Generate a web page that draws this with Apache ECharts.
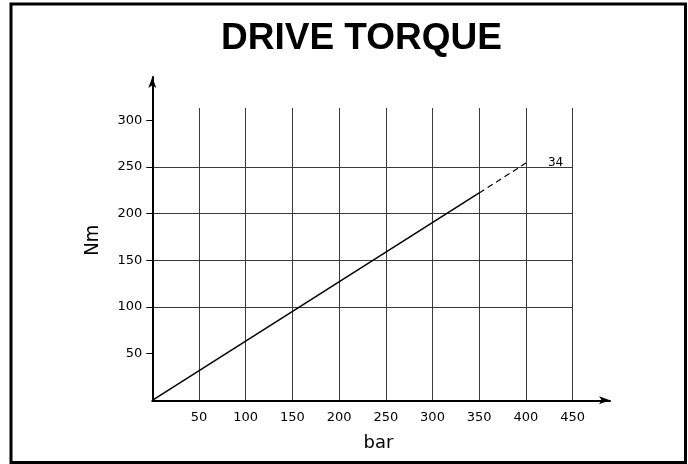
<!DOCTYPE html>
<html>
<head>
<meta charset="utf-8">
<script src="https://cdn.jsdelivr.net/npm/echarts@6/dist/echarts.min.js"></script>
<style>
html,body{margin:0;padding:0;background:#fff;}
#c{width:688px;height:464px;}
</style>
</head>
<body>
<div id="c"></div>
<script>
// ---- data ----
const titleText = 'DRIVE TORQUE';
const xName = 'bar';
const yName = 'Nm';
const xTicks = [50, 100, 150, 200, 250, 300, 350, 400, 450];
const yTicks = [50, 100, 150, 200, 250, 300];
const pressureSolid = [0, 350];
const torqueSolid = [0, 222];
const pressureDashed = [350, 400];
const torqueDashed = [222, 254];
const curveLabel = '34';

const solidData = pressureSolid.map((x, i) => [x, torqueSolid[i]]);
const dashedData = pressureDashed.map((x, i) => [x, torqueDashed[i]]);

const chart = echarts.init(document.getElementById('c'), null, {renderer: 'canvas'});
const labelFont = 'DejaVu Sans';
const gridColor = '#3a3a3a';

chart.setOption({
  animation: false,
  backgroundColor: '#fff',
  title: {
    text: titleText,
    left: 216,
    top: 15,
    textStyle: {fontFamily: 'Liberation Sans, Arial, sans-serif', fontWeight: 'bold', fontSize: 37, color: '#000'}
  },
  graphic: [{
    type: 'rect',
    shape: {x: 11, y: 4, width: 674.5, height: 458.5},
    style: {fill: 'none', stroke: '#000', lineWidth: 3},
    silent: true
  }],
  grid: [
    {left: 152.3, right: 115.4, top: 108, bottom: 63.7},
    {left: 152.3, right: 78, top: 77, bottom: 63.7}
  ],
  xAxis: [{
    type: 'value', gridIndex: 0, min: 0, max: 450, interval: 50,
    axisLine: {show: false},
    axisTick: {show: false},
    axisLabel: {customValues: xTicks, margin: 11, color: '#000', fontFamily: labelFont, fontSize: 13},
    splitLine: {show: true, showMinLine: false, lineStyle: {color: gridColor, width: 1}},
    name: xName, nameLocation: 'middle', nameGap: 34,
    nameTextStyle: {color: '#000', fontFamily: labelFont, fontSize: 18, padding: [0, 0, 0, 32]}
  }, {
    type: 'value', gridIndex: 1, min: 0, max: 1,
    axisLine: {show: true, onZero: false, symbol: ['none', 'arrow'], symbolSize: [6, 11], lineStyle: {color: '#000', width: 2}},
    axisTick: {show: false}, axisLabel: {show: false}, splitLine: {show: false}
  }],
  yAxis: [{
    type: 'value', gridIndex: 0, min: 0, max: 313, interval: 50,
    axisLine: {show: false},
    axisTick: {show: true, customValues: yTicks, length: 6, lineStyle: {color: '#000', width: 1}},
    axisLabel: {customValues: yTicks, margin: 10, color: '#000', fontFamily: labelFont, fontSize: 13},
    splitLine: {show: true, showMinLine: false, showMaxLine: false, lineStyle: {color: gridColor, width: 1}},
    name: yName, nameLocation: 'middle', nameRotate: 90, nameGap: 50,
    nameTextStyle: {color: '#000', fontFamily: 'Liberation Sans Narrow, DejaVu Sans Condensed, sans-serif', fontSize: 20, padding: [0, 0, 0, 28]}
  }, {
    type: 'value', gridIndex: 1, min: 0, max: 1,
    axisLine: {show: true, onZero: false, symbol: ['none', 'arrow'], symbolSize: [6, 11], lineStyle: {color: '#000', width: 2}},
    axisTick: {show: false}, axisLabel: {show: false}, splitLine: {show: false}
  }],
  series: [{
    type: 'line', xAxisIndex: 0, yAxisIndex: 0,
    data: solidData, symbol: 'none', silent: true,
    lineStyle: {color: '#000', width: 1.5}
  }, {
    type: 'line', xAxisIndex: 0, yAxisIndex: 0, name: curveLabel,
    data: dashedData, symbol: 'none', silent: true,
    lineStyle: {color: '#000', width: 1.2, type: [6, 4]},
    endLabel: {show: true, formatter: '{a}', distance: 22, color: '#000', fontFamily: labelFont, fontSize: 12}
  }]
});
</script>
</body>
</html>
